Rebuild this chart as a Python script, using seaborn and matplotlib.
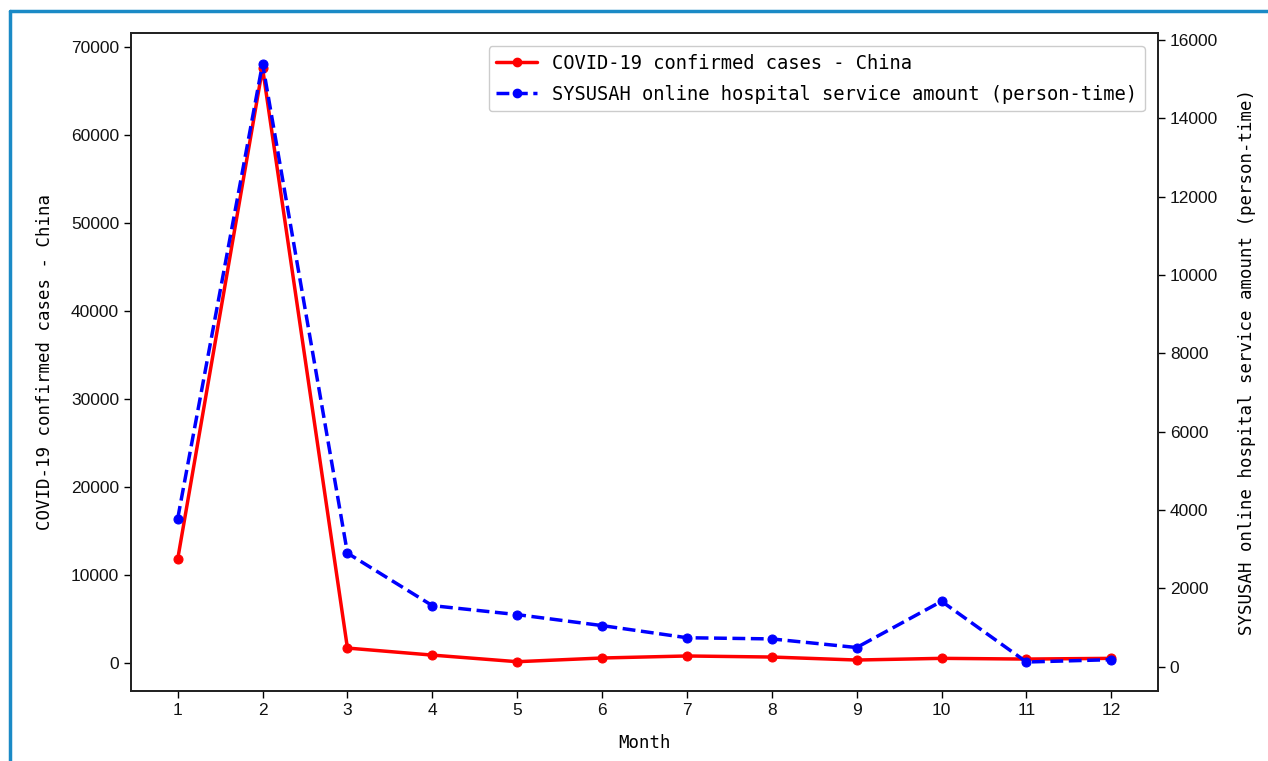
import matplotlib
matplotlib.use("Agg")
import matplotlib.pyplot as plt
import seaborn as sns
import pandas as pd
from matplotlib.lines import Line2D

months = list(range(1, 13))
cases_china = [11800, 67600, 1700, 900, 150, 570, 800, 680, 340, 530, 450, 530]
service_amount = [3780, 15400, 2900, 1560, 1330, 1050, 740, 710, 490, 1670, 120, 180]

label_cases = "COVID-19 confirmed cases - China"
label_service = "SYSUSAH online hospital service amount (person-time)"
xlabel = "Month"

df = pd.DataFrame({"Month": months, "cases": cases_china, "service": service_amount})

sns.set_style("ticks")
plt.rcParams["font.family"] = ["DejaVu Sans Mono"]

fig = plt.figure(figsize=(12.68, 7.61), dpi=100)
ax = fig.add_axes([131/1268, 1-691/761, (1158-131)/1268, (691-33)/761])
ax2 = ax.twinx()

sns.lineplot(data=df, x="Month", y="cases", ax=ax, color="red", marker="o",
             markersize=6.5, markeredgecolor="red", linewidth=2.5, legend=False)
sns.lineplot(data=df, x="Month", y="service", ax=ax2, color="blue", marker="o",
             markersize=6.5, markeredgecolor="blue", linewidth=2.5, linestyle="--",
             legend=False)

ax.set_xticks(months)
ax.set_xlim(0.45, 12.55)
ax.set_ylim(-3180, 71600)
ax.set_yticks(range(0, 70001, 10000))
ax2.set_ylim(-620, 16180)
ax2.set_yticks(range(0, 16001, 2000))

for a in (ax, ax2):
    for lab in a.get_xticklabels() + a.get_yticklabels():
        lab.set_fontfamily("Liberation Sans")
        lab.set_fontsize(12.5)
        lab.set_color("#111111")
    a.tick_params(length=5, width=1, color="black")
    for s in a.spines.values():
        s.set_visible(True)
        s.set_linewidth(1.3)
        s.set_color("#222222")

ax.set_xlabel(xlabel, fontsize=12.5, labelpad=12, color="black")
ax.set_ylabel(label_cases, fontsize=12.5, labelpad=12, color="black")
ax2.set_ylabel(label_service, fontsize=12.5, labelpad=14, color="black")

h1 = [Line2D([], [], color="red", marker="o", markersize=6, linewidth=2.5)]
h2 = [Line2D([], [], color="blue", marker="o", markersize=6, linewidth=2.5, linestyle="--")]
leg = ax2.legend(h1 + h2, [label_cases, label_service], loc="upper right",
                 prop={"family": "DejaVu Sans Mono", "size": 13.5}, handlelength=2.2,
                 labelspacing=0.65, borderaxespad=0.7,
                 frameon=True, edgecolor="#cccccc", framealpha=1)
for t in leg.get_texts():
    t.set_color("black")

fig.add_artist(Line2D([10/1268, 1.0], [1-11/761, 1-11/761], color="#1a8ac6", linewidth=2.5,
                      transform=fig.transFigure))
fig.add_artist(Line2D([10/1268, 10/1268], [0, 1-11/761], color="#1a8ac6", linewidth=2.5,
                      transform=fig.transFigure))

fig.savefig("out.png", dpi=100)
